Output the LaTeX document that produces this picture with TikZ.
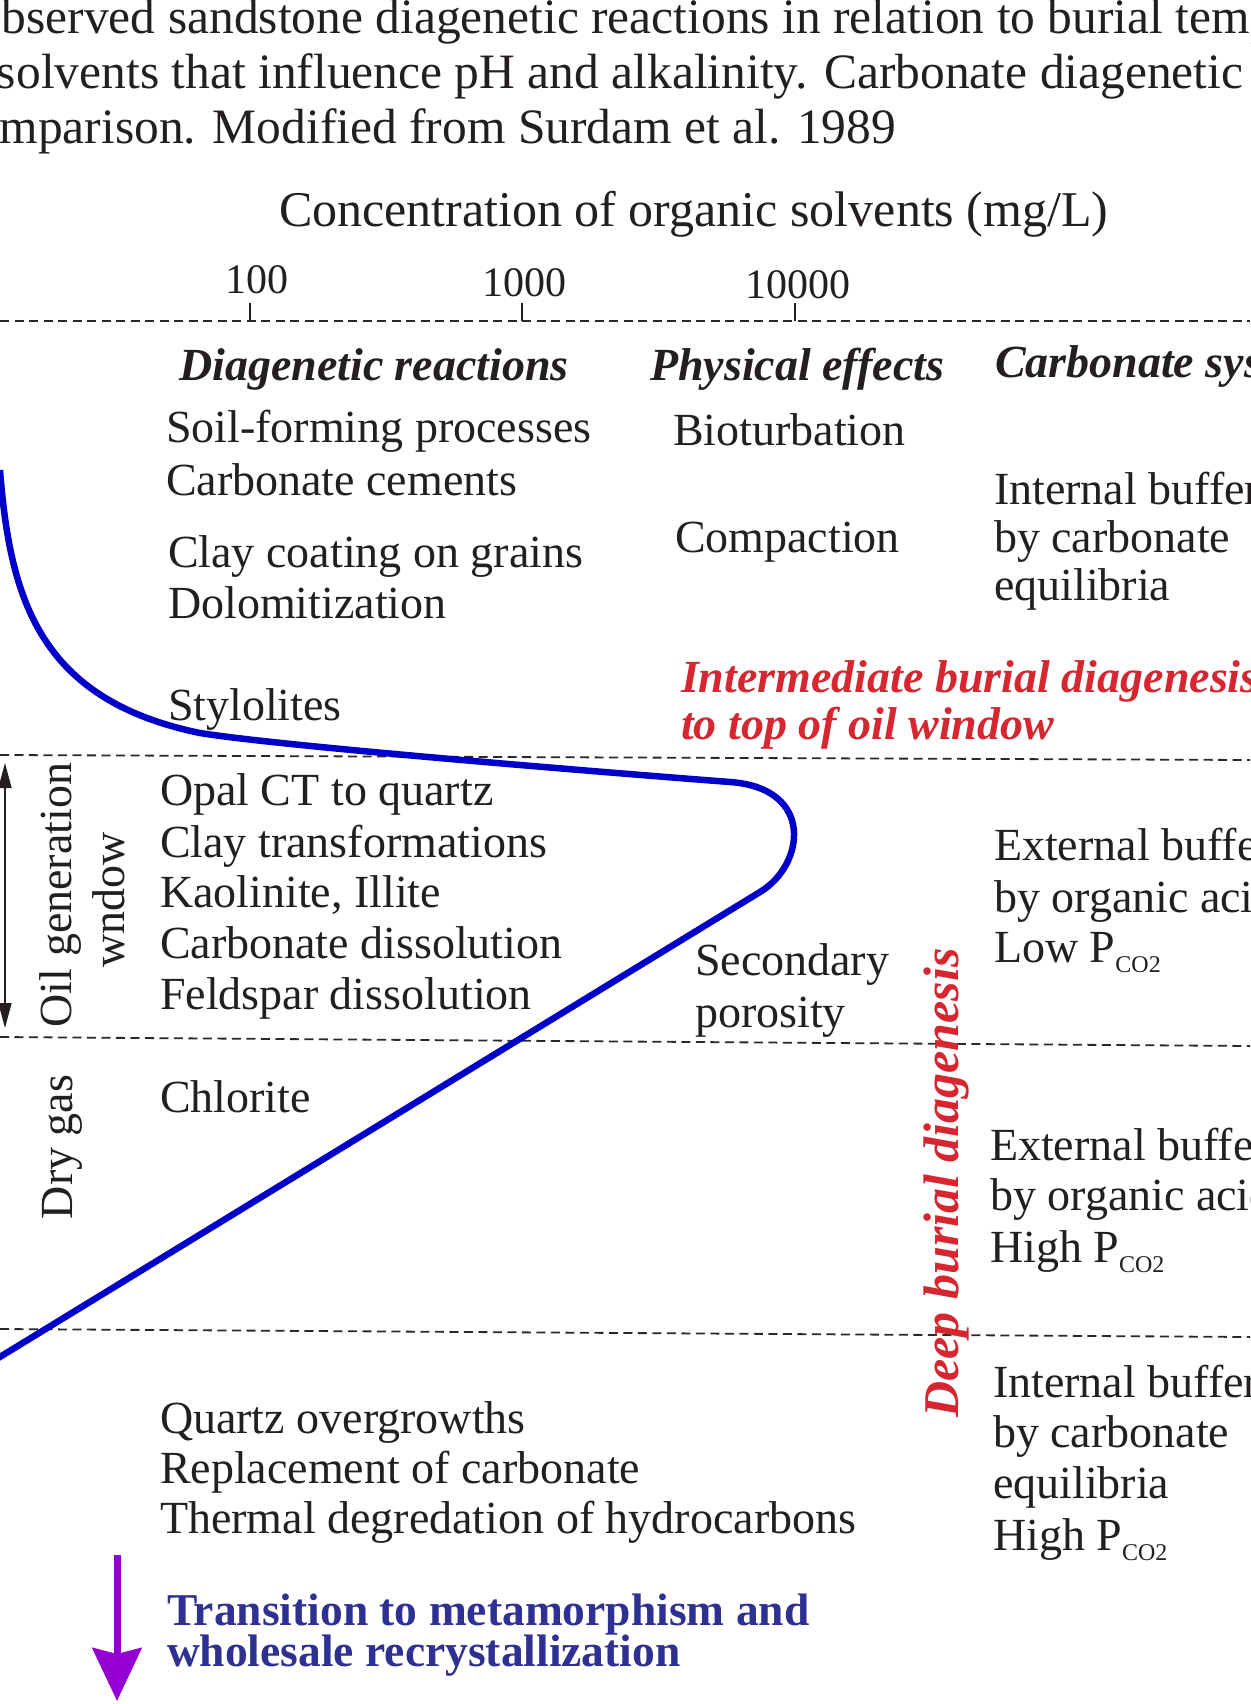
\documentclass[tikz,border=0pt]{standalone}
\usepackage{fontspec}
\setmainfont{Liberation Serif}
\usetikzlibrary{arrows.meta}
\definecolor{txt}{RGB}{35,31,32}
\definecolor{redt}{RGB}{214,38,48}
\definecolor{navyt}{RGB}{46,49,146}
\definecolor{purp}{RGB}{148,0,211}
\definecolor{curveblue}{RGB}{0,0,200}
\definecolor{dashc}{RGB}{40,40,40}
\newcommand{\myPco}{P\raisebox{-10pt}{\fontsize{24}{24}\selectfont CO2}}
\begin{document}
\begin{tikzpicture}[x=1pt,y=-1pt,
  lbl/.style={anchor=base west, inner sep=0pt, outer sep=0pt, text=txt, font=\fontsize{46}{52}\selectfont},
  captxt/.style={lbl, font=\fontsize{49.5}{55}\selectfont},
  hdr/.style={lbl, font=\fontsize{46}{52}\selectfont\bfseries\itshape},
  redlbl/.style={lbl, text=redt, font=\fontsize{46}{52}\selectfont\bfseries\itshape},
  navylbl/.style={lbl, text=navyt, font=\fontsize{45.5}{50}\selectfont\bfseries},
  ticklbl/.style={anchor=base, inner sep=0pt, text=txt, font=\fontsize{42}{46}\selectfont},
  vlbl/.style={anchor=base, rotate=90, inner sep=0pt, text=txt, font=\fontsize{46}{52}\selectfont},
  sepline/.style={dashc, line width=1.8pt, dash pattern=on 9pt off 5.5pt},
  tickmark/.style={txt, line width=1.5pt},
  orgcurve/.style={curveblue, line width=6.5pt},
]
\clip (0,0) rectangle (1250,1704);
\fill[white] (0,0) rectangle (1250,1704);

% caption
\node[captxt] (c1) at (-23,34) {observed sandstone diagenetic reactions in relation to burial temperature};
\node[captxt] (c2) at (-3,89) {solvents that influence pH and alkalinity. Carbonate diagenetic};
\node[captxt] (c3) at (-47,144) {comparison. Modified from Surdam et al. 1989};

% axis
\node[lbl, font=\fontsize{50}{55}\selectfont] (conc) at (279,227) {Concentration of organic solvents (mg/L)};
\node[ticklbl] (t100) at (257,293) {100};
\node[ticklbl] (t1000) at (524,296) {1000};
\node[ticklbl] (t10000) at (798,298) {10000};
\draw[tickmark] (250,303) -- (250,321);
\draw[tickmark] (522,303) -- (522,321);
\draw[tickmark] (795,303) -- (795,321);

% separators
\draw[sepline] (0,321) -- (1250,321);
\draw[sepline] (0,755) -- (1250,760);
\draw[sepline] (0,1037) -- (1250,1046);
\draw[sepline] (0,1329) -- (1250,1337);

% headers
\node[hdr] (h1) at (179,380) {Diagenetic reactions};
\node[hdr] (h2) at (650,380) {Physical effects};
\node[hdr] (h3) at (995,377) {Carbonate system};

% diagenetic reactions
\node[lbl] (r1) at (166,442) {Soil-forming processes};
\node[lbl] (r2) at (166,495) {Carbonate cements};
\node[lbl] (r3) at (168,567) {Clay coating on grains};
\node[lbl] (r4) at (168,618) {Dolomitization};
\node[lbl] (r5) at (168,720) {Stylolites};
\node[lbl] (r6) at (160,805) {Opal CT to quartz};
\node[lbl] (r7) at (160,857) {Clay transformations};
\node[lbl] (r8) at (160,907) {Kaolinite, Illite};
\node[lbl] (r9) at (160,958) {Carbonate dissolution};
\node[lbl] (r10) at (160,1009) {Feldspar dissolution};
\node[lbl] (r11) at (160,1112) {Chlorite};
\node[lbl] (r12) at (160,1433) {Quartz overgrowths};
\node[lbl] (r13) at (160,1483) {Replacement of carbonate};
\node[lbl] (r14) at (160,1533) {Thermal degredation of hydrocarbons};

% physical effects
\node[lbl] (p1) at (673,445) {Bioturbation};
\node[lbl] (p2) at (675,552) {Compaction};
\node[lbl] (p3) at (695,975) {Secondary};
\node[lbl] (p4) at (695,1027) {porosity};

% carbonate system
\node[lbl] (b1) at (994,504) {Internal buffering};
\node[lbl] (b2) at (994,552) {by carbonate};
\node[lbl] (b3) at (994,600) {equilibria};
\node[lbl] (b4) at (994,860) {External buffering};
\node[lbl] (b5) at (994,912) {by organic acids};
\node[lbl] (b6) at (994,962) {Low \myPco};
\node[lbl] (b7) at (990,1160) {External buffering};
\node[lbl] (b8) at (990,1210) {by organic acids};
\node[lbl] (b9) at (990,1262) {High \myPco};
\node[lbl] (b10) at (993,1397) {Internal buffering};
\node[lbl] (b11) at (993,1447) {by carbonate};
\node[lbl] (b12) at (993,1498) {equilibria};
\node[lbl] (b13) at (993,1550) {High \myPco};

% red labels
\node[redlbl] (i1) at (681,692) {Intermediate burial diagenesis};
\node[redlbl] (i2) at (681,739) {to top of oil window};
\node[vlbl, text=redt, font=\fontsize{50}{55}\selectfont\bfseries\itshape] (deep) at (958,1183) {Deep burial diagenesis};

% left rotated labels
\node[vlbl] (oil) at (71,895) {Oil generation};
\node[vlbl] (wn) at (124,900) {wndow};
\node[vlbl] (dry) at (72,1147) {Dry gas};
\coordinate (oa) at (5,763);
\coordinate (ob) at (5,1028);
\draw[txt, line width=1.5pt, {Triangle[length=25pt,width=13pt]}-{Triangle[length=25pt,width=13pt]}] (oa) -- (ob);

% bottom
\node[navylbl] (n1) at (167,1625) {Transition to metamorphism and};
\node[navylbl] (n2) at (167,1666) {wholesale recrystallization};
\coordinate (pa) at (117,1555);
\coordinate (pb) at (117,1701);
\draw[purp, line width=7pt, -{Stealth[length=53pt,width=49pt,inset=6pt]}] (pa) -- (pb);

% organic solvent curve
\draw[orgcurve] (0,470) .. controls (10,600) and (40,700) .. (200,733)
  .. controls (280,746) and (600,772) .. (730,782)
  .. controls (815,788) and (805,865) .. (760,892) -- (-10,1363);
\end{tikzpicture}
\end{document}
